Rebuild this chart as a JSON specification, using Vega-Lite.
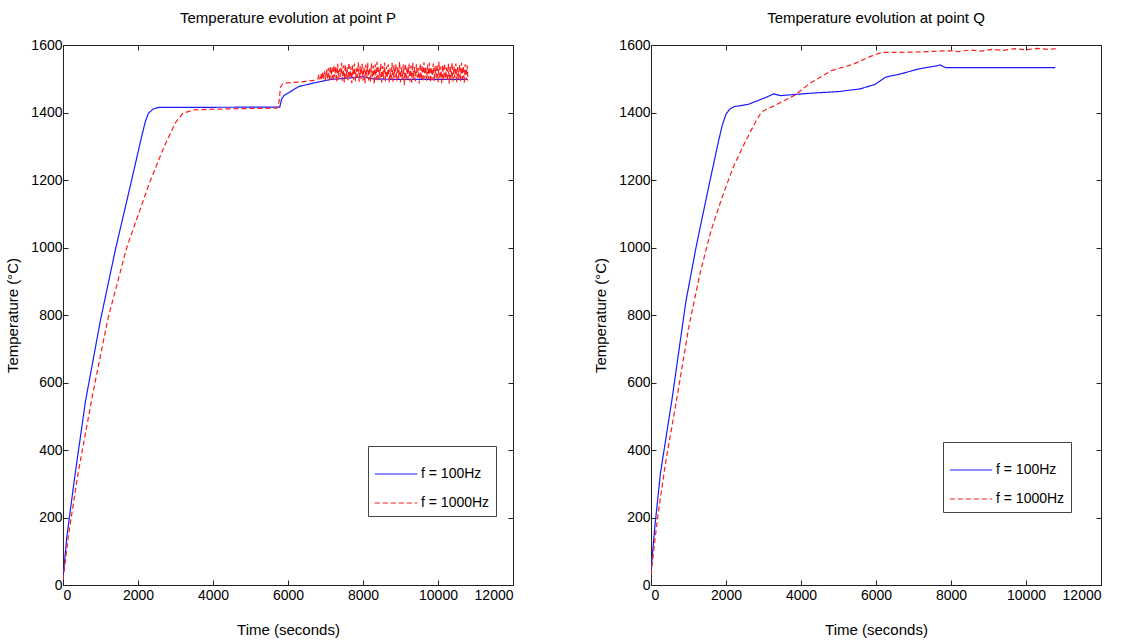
{
  "$schema": "https://vega.github.io/schema/vega-lite/v6.json",
  "autosize": {"type": "pad"},
  "padding": {"left": 5, "top": 11, "right": 5, "bottom": 5},
  "bounds": "flush",
  "spacing": 138,
  "background": "white",
  "datasets": {
    "P": [
      {"t": 0, "T": 20, "f": "f = 100Hz"}, {"t": 100, "T": 140, "f": "f = 100Hz"}, {"t": 300, "T": 310, "f": "f = 100Hz"}, {"t": 600, "T": 545, "f": "f = 100Hz"}, {"t": 1000, "T": 785, "f": "f = 100Hz"}, {"t": 1400, "T": 995, "f": "f = 100Hz"}, {"t": 1800, "T": 1185, "f": "f = 100Hz"}, {"t": 2100, "T": 1330, "f": "f = 100Hz"}, {"t": 2200, "T": 1375, "f": "f = 100Hz"}, {"t": 2280, "T": 1398, "f": "f = 100Hz"}, {"t": 2400, "T": 1410, "f": "f = 100Hz"}, {"t": 2550, "T": 1415, "f": "f = 100Hz"}, {"t": 5780, "T": 1416, "f": "f = 100Hz"}, {"t": 5830, "T": 1440, "f": "f = 100Hz"}, {"t": 5900, "T": 1451, "f": "f = 100Hz"}, {"t": 6290, "T": 1477, "f": "f = 100Hz"}, {"t": 6670, "T": 1487, "f": "f = 100Hz"}, {"t": 7140, "T": 1498, "f": "f = 100Hz"}, {"t": 7710, "T": 1503, "f": "f = 100Hz"}, {"t": 8000, "T": 1506, "f": "f = 100Hz"}, {"t": 8300, "T": 1499, "f": "f = 100Hz"}, {"t": 9000, "T": 1498, "f": "f = 100Hz"}, {"t": 10000, "T": 1498, "f": "f = 100Hz"}, {"t": 10800, "T": 1498, "f": "f = 100Hz"},
      {"t": 0, "T": 15, "f": "f = 1000Hz"}, {"t": 150, "T": 150, "f": "f = 1000Hz"}, {"t": 400, "T": 330, "f": "f = 1000Hz"}, {"t": 800, "T": 570, "f": "f = 1000Hz"}, {"t": 1200, "T": 790, "f": "f = 1000Hz"}, {"t": 1700, "T": 1000, "f": "f = 1000Hz"}, {"t": 2300, "T": 1190, "f": "f = 1000Hz"}, {"t": 2700, "T": 1300, "f": "f = 1000Hz"}, {"t": 3000, "T": 1370, "f": "f = 1000Hz"}, {"t": 3200, "T": 1398, "f": "f = 1000Hz"}, {"t": 3500, "T": 1408, "f": "f = 1000Hz"}, {"t": 4500, "T": 1411, "f": "f = 1000Hz"}, {"t": 5700, "T": 1413, "f": "f = 1000Hz"}, {"t": 5760, "T": 1430, "f": "f = 1000Hz"}, {"t": 5800, "T": 1475, "f": "f = 1000Hz"}, {"t": 5860, "T": 1486, "f": "f = 1000Hz"}, {"t": 6000, "T": 1488, "f": "f = 1000Hz"}, {"t": 6300, "T": 1490, "f": "f = 1000Hz"}, {"t": 6500, "T": 1493, "f": "f = 1000Hz"}, {"t": 6700, "T": 1495, "f": "f = 1000Hz"},
      {"t": 6800, "T": 1500, "f": "f = 1000Hz"}, {"t": 6825, "T": 1512, "f": "f = 1000Hz"}, {"t": 6850, "T": 1498, "f": "f = 1000Hz"}, {"t": 6875, "T": 1515, "f": "f = 1000Hz"}, {"t": 6900, "T": 1497, "f": "f = 1000Hz"}, {"t": 6925, "T": 1520, "f": "f = 1000Hz"}, {"t": 6950, "T": 1500, "f": "f = 1000Hz"}, {"t": 6975, "T": 1522, "f": "f = 1000Hz"}, {"t": 7000, "T": 1496, "f": "f = 1000Hz"}, {"t": 7025, "T": 1528, "f": "f = 1000Hz"}, {"t": 7050, "T": 1501, "f": "f = 1000Hz"}, {"t": 7075, "T": 1532, "f": "f = 1000Hz"}, {"t": 7100, "T": 1495, "f": "f = 1000Hz"}, {"t": 7125, "T": 1538, "f": "f = 1000Hz"}, {"t": 7150, "T": 1499, "f": "f = 1000Hz"}, {"t": 7175, "T": 1535, "f": "f = 1000Hz"}, {"t": 7200, "T": 1492, "f": "f = 1000Hz"}, {"t": 7225, "T": 1541, "f": "f = 1000Hz"}, {"t": 7250, "T": 1503, "f": "f = 1000Hz"}, {"t": 7275, "T": 1537, "f": "f = 1000Hz"}, {"t": 7300, "T": 1490, "f": "f = 1000Hz"}, {"t": 7325, "T": 1544, "f": "f = 1000Hz"}, {"t": 7350, "T": 1498, "f": "f = 1000Hz"}, {"t": 7375, "T": 1530, "f": "f = 1000Hz"}, {"t": 7400, "T": 1506, "f": "f = 1000Hz"}, {"t": 7425, "T": 1547, "f": "f = 1000Hz"}, {"t": 7450, "T": 1494, "f": "f = 1000Hz"}, {"t": 7475, "T": 1539, "f": "f = 1000Hz"}, {"t": 7500, "T": 1489, "f": "f = 1000Hz"}, {"t": 7525, "T": 1543, "f": "f = 1000Hz"}, {"t": 7550, "T": 1500, "f": "f = 1000Hz"}, {"t": 7575, "T": 1534, "f": "f = 1000Hz"}, {"t": 7600, "T": 1496, "f": "f = 1000Hz"}, {"t": 7625, "T": 1548, "f": "f = 1000Hz"}, {"t": 7650, "T": 1502, "f": "f = 1000Hz"}, {"t": 7675, "T": 1536, "f": "f = 1000Hz"}, {"t": 7700, "T": 1487, "f": "f = 1000Hz"}, {"t": 7725, "T": 1540, "f": "f = 1000Hz"}, {"t": 7750, "T": 1497, "f": "f = 1000Hz"}, {"t": 7775, "T": 1545, "f": "f = 1000Hz"}, {"t": 7800, "T": 1493, "f": "f = 1000Hz"}, {"t": 7825, "T": 1531, "f": "f = 1000Hz"}, {"t": 7850, "T": 1505, "f": "f = 1000Hz"}, {"t": 7875, "T": 1549, "f": "f = 1000Hz"}, {"t": 7900, "T": 1491, "f": "f = 1000Hz"}, {"t": 7925, "T": 1538, "f": "f = 1000Hz"}, {"t": 7950, "T": 1499, "f": "f = 1000Hz"}, {"t": 7975, "T": 1544, "f": "f = 1000Hz"}, {"t": 8000, "T": 1494, "f": "f = 1000Hz"}, {"t": 8025, "T": 1535, "f": "f = 1000Hz"}, {"t": 8050, "T": 1486, "f": "f = 1000Hz"}, {"t": 8075, "T": 1542, "f": "f = 1000Hz"}, {"t": 8100, "T": 1501, "f": "f = 1000Hz"}, {"t": 8125, "T": 1547, "f": "f = 1000Hz"}, {"t": 8150, "T": 1495, "f": "f = 1000Hz"}, {"t": 8175, "T": 1533, "f": "f = 1000Hz"}, {"t": 8200, "T": 1490, "f": "f = 1000Hz"}, {"t": 8225, "T": 1546, "f": "f = 1000Hz"}, {"t": 8250, "T": 1503, "f": "f = 1000Hz"}, {"t": 8275, "T": 1539, "f": "f = 1000Hz"}, {"t": 8300, "T": 1484, "f": "f = 1000Hz"}, {"t": 8325, "T": 1543, "f": "f = 1000Hz"}, {"t": 8350, "T": 1497, "f": "f = 1000Hz"}, {"t": 8375, "T": 1550, "f": "f = 1000Hz"}, {"t": 8400, "T": 1492, "f": "f = 1000Hz"}, {"t": 8425, "T": 1534, "f": "f = 1000Hz"}, {"t": 8450, "T": 1500, "f": "f = 1000Hz"}, {"t": 8475, "T": 1545, "f": "f = 1000Hz"}, {"t": 8500, "T": 1489, "f": "f = 1000Hz"}, {"t": 8525, "T": 1538, "f": "f = 1000Hz"}, {"t": 8550, "T": 1498, "f": "f = 1000Hz"}, {"t": 8575, "T": 1548, "f": "f = 1000Hz"}, {"t": 8600, "T": 1493, "f": "f = 1000Hz"}, {"t": 8625, "T": 1536, "f": "f = 1000Hz"}, {"t": 8650, "T": 1504, "f": "f = 1000Hz"}, {"t": 8675, "T": 1543, "f": "f = 1000Hz"}, {"t": 8700, "T": 1488, "f": "f = 1000Hz"}, {"t": 8725, "T": 1531, "f": "f = 1000Hz"}, {"t": 8750, "T": 1496, "f": "f = 1000Hz"}, {"t": 8775, "T": 1547, "f": "f = 1000Hz"}, {"t": 8800, "T": 1491, "f": "f = 1000Hz"}, {"t": 8825, "T": 1540, "f": "f = 1000Hz"}, {"t": 8850, "T": 1502, "f": "f = 1000Hz"}, {"t": 8875, "T": 1544, "f": "f = 1000Hz"}, {"t": 8900, "T": 1494, "f": "f = 1000Hz"}, {"t": 8925, "T": 1537, "f": "f = 1000Hz"}, {"t": 8950, "T": 1499, "f": "f = 1000Hz"}, {"t": 8975, "T": 1551, "f": "f = 1000Hz"}, {"t": 9000, "T": 1490, "f": "f = 1000Hz"}, {"t": 9025, "T": 1533, "f": "f = 1000Hz"}, {"t": 9050, "T": 1497, "f": "f = 1000Hz"}, {"t": 9075, "T": 1542, "f": "f = 1000Hz"}, {"t": 9100, "T": 1481, "f": "f = 1000Hz"}, {"t": 9125, "T": 1546, "f": "f = 1000Hz"}, {"t": 9150, "T": 1495, "f": "f = 1000Hz"}, {"t": 9175, "T": 1536, "f": "f = 1000Hz"}, {"t": 9200, "T": 1500, "f": "f = 1000Hz"}, {"t": 9225, "T": 1544, "f": "f = 1000Hz"}, {"t": 9250, "T": 1492, "f": "f = 1000Hz"}, {"t": 9275, "T": 1539, "f": "f = 1000Hz"}, {"t": 9300, "T": 1488, "f": "f = 1000Hz"}, {"t": 9325, "T": 1548, "f": "f = 1000Hz"}, {"t": 9350, "T": 1498, "f": "f = 1000Hz"}, {"t": 9375, "T": 1535, "f": "f = 1000Hz"}, {"t": 9400, "T": 1493, "f": "f = 1000Hz"}, {"t": 9425, "T": 1543, "f": "f = 1000Hz"}, {"t": 9450, "T": 1503, "f": "f = 1000Hz"}, {"t": 9475, "T": 1532, "f": "f = 1000Hz"}, {"t": 9500, "T": 1486, "f": "f = 1000Hz"}, {"t": 9525, "T": 1545, "f": "f = 1000Hz"}, {"t": 9550, "T": 1497, "f": "f = 1000Hz"}, {"t": 9575, "T": 1540, "f": "f = 1000Hz"}, {"t": 9600, "T": 1491, "f": "f = 1000Hz"}, {"t": 9625, "T": 1549, "f": "f = 1000Hz"}, {"t": 9650, "T": 1501, "f": "f = 1000Hz"}, {"t": 9675, "T": 1536, "f": "f = 1000Hz"}, {"t": 9700, "T": 1494, "f": "f = 1000Hz"}, {"t": 9725, "T": 1542, "f": "f = 1000Hz"}, {"t": 9750, "T": 1499, "f": "f = 1000Hz"}, {"t": 9775, "T": 1547, "f": "f = 1000Hz"}, {"t": 9800, "T": 1489, "f": "f = 1000Hz"}, {"t": 9825, "T": 1534, "f": "f = 1000Hz"}, {"t": 9850, "T": 1496, "f": "f = 1000Hz"}, {"t": 9875, "T": 1545, "f": "f = 1000Hz"}, {"t": 9900, "T": 1492, "f": "f = 1000Hz"}, {"t": 9925, "T": 1538, "f": "f = 1000Hz"}, {"t": 9950, "T": 1503, "f": "f = 1000Hz"}, {"t": 9975, "T": 1543, "f": "f = 1000Hz"}, {"t": 10000, "T": 1490, "f": "f = 1000Hz"}, {"t": 10025, "T": 1550, "f": "f = 1000Hz"}, {"t": 10050, "T": 1498, "f": "f = 1000Hz"}, {"t": 10075, "T": 1536, "f": "f = 1000Hz"}, {"t": 10100, "T": 1487, "f": "f = 1000Hz"}, {"t": 10125, "T": 1541, "f": "f = 1000Hz"}, {"t": 10150, "T": 1495, "f": "f = 1000Hz"}, {"t": 10175, "T": 1546, "f": "f = 1000Hz"}, {"t": 10200, "T": 1500, "f": "f = 1000Hz"}, {"t": 10225, "T": 1533, "f": "f = 1000Hz"}, {"t": 10250, "T": 1493, "f": "f = 1000Hz"}, {"t": 10275, "T": 1544, "f": "f = 1000Hz"}, {"t": 10300, "T": 1485, "f": "f = 1000Hz"}, {"t": 10325, "T": 1539, "f": "f = 1000Hz"}, {"t": 10350, "T": 1497, "f": "f = 1000Hz"}, {"t": 10375, "T": 1548, "f": "f = 1000Hz"}, {"t": 10400, "T": 1492, "f": "f = 1000Hz"}, {"t": 10425, "T": 1537, "f": "f = 1000Hz"}, {"t": 10450, "T": 1502, "f": "f = 1000Hz"}, {"t": 10475, "T": 1545, "f": "f = 1000Hz"}, {"t": 10500, "T": 1490, "f": "f = 1000Hz"}, {"t": 10525, "T": 1535, "f": "f = 1000Hz"}, {"t": 10550, "T": 1498, "f": "f = 1000Hz"}, {"t": 10575, "T": 1542, "f": "f = 1000Hz"}, {"t": 10600, "T": 1493, "f": "f = 1000Hz"}, {"t": 10625, "T": 1547, "f": "f = 1000Hz"}, {"t": 10650, "T": 1500, "f": "f = 1000Hz"}, {"t": 10675, "T": 1538, "f": "f = 1000Hz"}, {"t": 10700, "T": 1488, "f": "f = 1000Hz"}, {"t": 10725, "T": 1543, "f": "f = 1000Hz"}, {"t": 10750, "T": 1496, "f": "f = 1000Hz"}, {"t": 10775, "T": 1540, "f": "f = 1000Hz"}, {"t": 10800, "T": 1495, "f": "f = 1000Hz"}
    ],
    "Q": [
      {"t": 0, "T": 40, "f": "f = 100Hz"}, {"t": 100, "T": 170, "f": "f = 100Hz"}, {"t": 250, "T": 330, "f": "f = 100Hz"}, {"t": 560, "T": 550, "f": "f = 100Hz"}, {"t": 930, "T": 840, "f": "f = 100Hz"}, {"t": 1200, "T": 1000, "f": "f = 100Hz"}, {"t": 1500, "T": 1160, "f": "f = 100Hz"}, {"t": 1800, "T": 1315, "f": "f = 100Hz"}, {"t": 1900, "T": 1362, "f": "f = 100Hz"}, {"t": 2000, "T": 1395, "f": "f = 100Hz"}, {"t": 2100, "T": 1410, "f": "f = 100Hz"}, {"t": 2200, "T": 1417, "f": "f = 100Hz"}, {"t": 2590, "T": 1424, "f": "f = 100Hz"}, {"t": 3070, "T": 1445, "f": "f = 100Hz"}, {"t": 3265, "T": 1455, "f": "f = 100Hz"}, {"t": 3460, "T": 1450, "f": "f = 100Hz"}, {"t": 4230, "T": 1457, "f": "f = 100Hz"}, {"t": 5000, "T": 1462, "f": "f = 100Hz"}, {"t": 5580, "T": 1470, "f": "f = 100Hz"}, {"t": 5970, "T": 1483, "f": "f = 100Hz"}, {"t": 6260, "T": 1505, "f": "f = 100Hz"}, {"t": 6650, "T": 1514, "f": "f = 100Hz"}, {"t": 7130, "T": 1529, "f": "f = 100Hz"}, {"t": 7610, "T": 1538, "f": "f = 100Hz"}, {"t": 7710, "T": 1541, "f": "f = 100Hz"}, {"t": 7855, "T": 1533, "f": "f = 100Hz"}, {"t": 10780, "T": 1533, "f": "f = 100Hz"},
      {"t": 0, "T": 30, "f": "f = 1000Hz"}, {"t": 100, "T": 130, "f": "f = 1000Hz"}, {"t": 200, "T": 220, "f": "f = 1000Hz"}, {"t": 400, "T": 370, "f": "f = 1000Hz"}, {"t": 700, "T": 560, "f": "f = 1000Hz"}, {"t": 1000, "T": 760, "f": "f = 1000Hz"}, {"t": 1300, "T": 920, "f": "f = 1000Hz"}, {"t": 1600, "T": 1050, "f": "f = 1000Hz"}, {"t": 1900, "T": 1150, "f": "f = 1000Hz"}, {"t": 2200, "T": 1240, "f": "f = 1000Hz"}, {"t": 2500, "T": 1310, "f": "f = 1000Hz"}, {"t": 2800, "T": 1375, "f": "f = 1000Hz"}, {"t": 2950, "T": 1402, "f": "f = 1000Hz"}, {"t": 3265, "T": 1419, "f": "f = 1000Hz"}, {"t": 3845, "T": 1452, "f": "f = 1000Hz"}, {"t": 4230, "T": 1486, "f": "f = 1000Hz"}, {"t": 4810, "T": 1524, "f": "f = 1000Hz"}, {"t": 5390, "T": 1543, "f": "f = 1000Hz"}, {"t": 5870, "T": 1567, "f": "f = 1000Hz"}, {"t": 6160, "T": 1578, "f": "f = 1000Hz"}, {"t": 6500, "T": 1578, "f": "f = 1000Hz"}, {"t": 7000, "T": 1579, "f": "f = 1000Hz"}, {"t": 7500, "T": 1581, "f": "f = 1000Hz"}, {"t": 8000, "T": 1583, "f": "f = 1000Hz"}, {"t": 8200, "T": 1580, "f": "f = 1000Hz"}, {"t": 8500, "T": 1585, "f": "f = 1000Hz"}, {"t": 8800, "T": 1582, "f": "f = 1000Hz"}, {"t": 9100, "T": 1587, "f": "f = 1000Hz"}, {"t": 9400, "T": 1584, "f": "f = 1000Hz"}, {"t": 9700, "T": 1589, "f": "f = 1000Hz"}, {"t": 10000, "T": 1586, "f": "f = 1000Hz"}, {"t": 10300, "T": 1590, "f": "f = 1000Hz"}, {"t": 10600, "T": 1587, "f": "f = 1000Hz"}, {"t": 10800, "T": 1589, "f": "f = 1000Hz"}
    ]
  },
  "resolve": {
    "scale": {"color": "independent", "strokeDash": "independent"},
    "legend": {"color": "independent", "strokeDash": "independent"}
  },
  "hconcat": [
    {
      "width": 450, "height": 540,
      "title": {"text": "Temperature evolution at point P", "offset": 12},
      "data": {"name": "P"},
      "layer": [
        {
          "mark": {"type": "line", "strokeWidth": 1.2, "clip": true},
          "encoding": {
            "x": {"field": "t", "type": "quantitative", "scale": {"domain": [0, 12000], "nice": false}, "axis": {"title": "Time (seconds)", "values": [0, 2000, 4000, 6000, 8000, 10000, 12000], "format": "d", "labelPadding": 8, "titlePadding": 20}},
            "y": {"field": "T", "type": "quantitative", "scale": {"domain": [0, 1600], "nice": false}, "axis": {"title": "Temperature (°C)", "values": [0, 200, 400, 600, 800, 1000, 1200, 1400, 1600], "format": "d", "labelPadding": 6, "titlePadding": 10}},
            "color": {"field": "f", "type": "nominal", "scale": {"domain": ["f = 100Hz", "f = 1000Hz"], "range": ["#1a1aff", "#ff1a1a"]}, "legend": {"orient": "none", "legendX": 305, "legendY": 401, "title": null}},
            "strokeDash": {"field": "f", "type": "nominal", "scale": {"domain": ["f = 100Hz", "f = 1000Hz"], "range": [[1, 0], [5, 3]]}, "legend": {"orient": "none", "legendX": 305, "legendY": 401, "title": null}}
          }
        },
        {
          "mark": {"type": "line", "opacity": 0},
          "encoding": {
            "x": {"field": "t", "type": "quantitative", "axis": {"orient": "top", "title": null, "labels": false, "values": [0, 2000, 4000, 6000, 8000, 10000, 12000]}},
            "y": {"field": "T", "type": "quantitative", "axis": {"orient": "right", "title": null, "labels": false, "values": [0, 200, 400, 600, 800, 1000, 1200, 1400, 1600]}},
            "detail": {"field": "f"}
          }
        }
      ],
      "resolve": {"axis": {"x": "independent", "y": "independent"}}
    },
    {
      "width": 450, "height": 540,
      "title": {"text": "Temperature evolution at point Q", "offset": 12},
      "data": {"name": "Q"},
      "layer": [
        {
          "mark": {"type": "line", "strokeWidth": 1.2, "clip": true},
          "encoding": {
            "x": {"field": "t", "type": "quantitative", "scale": {"domain": [0, 12000], "nice": false}, "axis": {"title": "Time (seconds)", "values": [0, 2000, 4000, 6000, 8000, 10000, 12000], "format": "d", "labelPadding": 8, "titlePadding": 20}},
            "y": {"field": "T", "type": "quantitative", "scale": {"domain": [0, 1600], "nice": false}, "axis": {"title": "Temperature (°C)", "values": [0, 200, 400, 600, 800, 1000, 1200, 1400, 1600], "format": "d", "labelPadding": 6, "titlePadding": 10}},
            "color": {"field": "f", "type": "nominal", "scale": {"domain": ["f = 100Hz", "f = 1000Hz"], "range": ["#1a1aff", "#ff1a1a"]}, "legend": {"orient": "none", "legendX": 292, "legendY": 397, "title": null}},
            "strokeDash": {"field": "f", "type": "nominal", "scale": {"domain": ["f = 100Hz", "f = 1000Hz"], "range": [[1, 0], [5, 3]]}, "legend": {"orient": "none", "legendX": 292, "legendY": 397, "title": null}}
          }
        },
        {
          "mark": {"type": "line", "opacity": 0},
          "encoding": {
            "x": {"field": "t", "type": "quantitative", "axis": {"orient": "top", "title": null, "labels": false, "values": [0, 2000, 4000, 6000, 8000, 10000, 12000]}},
            "y": {"field": "T", "type": "quantitative", "axis": {"orient": "right", "title": null, "labels": false, "values": [0, 200, 400, 600, 800, 1000, 1200, 1400, 1600]}},
            "detail": {"field": "f"}
          }
        }
      ],
      "resolve": {"axis": {"x": "independent", "y": "independent"}}
    }
  ],
  "config": {
    "font": "Liberation Sans",
    "view": {"stroke": null},
    "axis": {
      "grid": false,
      "domainColor": "#222222",
      "domainWidth": 1,
      "tickColor": "#222222",
      "tickSize": -5,
      "labelColor": "black",
      "labelFont": "Liberation Sans",
      "labelFontSize": 14,
      "titleColor": "black",
      "titleFont": "Liberation Sans",
      "titleFontSize": 15,
      "titleFontWeight": "normal"
    },
    "title": {"font": "Liberation Sans", "fontSize": 15, "fontWeight": "normal", "color": "black"},
    "legend": {
      "strokeColor": "#444444",
      "fillColor": "white",
      "padding": 6,
      "symbolType": "stroke",
      "symbolSize": 1800,
      "symbolStrokeWidth": 1.2,
      "labelFont": "Liberation Sans",
      "labelFontSize": 14,
      "labelColor": "black",
      "labelOffset": 3,
      "rowPadding": -1,
      "cornerRadius": 0
    }
  }
}
